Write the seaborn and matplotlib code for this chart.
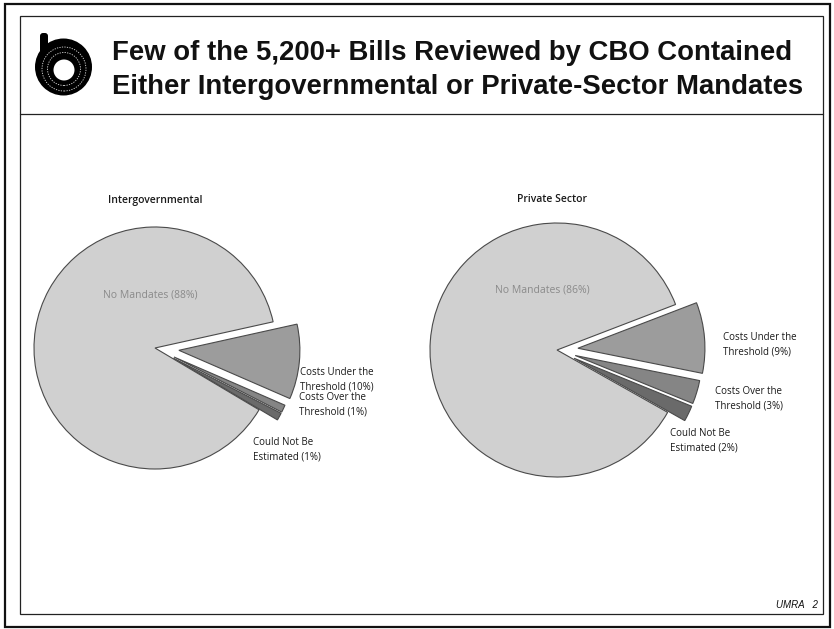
import matplotlib
matplotlib.use("Agg")
import matplotlib.pyplot as plt
from matplotlib.patches import Circle, Rectangle, FancyBboxPatch
import seaborn as sns

# ---- data -------------------------------------------------------------
categories = ["Costs Under the Threshold", "Costs Over the Threshold",
              "Could Not Be Estimated", "No Mandates"]
intergov_values = [10, 1, 1, 88]
private_values = [9, 3, 2, 86]
panel_titles = ["Intergovernmental", "Private Sector"]
title_lines = ["Few of the 5,200+ Bills Reviewed by CBO Contained",
               "Either Intergovernmental or Private-Sector Mandates"]
footer = "UMRA   2"

# ---- style ------------------------------------------------------------
sns.set_theme(style="white")
plt.rcParams["font.family"] = ["Open Sans", "DejaVu Sans"]
slice_colors = sns.color_palette(["#9c9c9c", "#858585", "#6a6a6a", "#d0d0d0"])

W, H = 834, 629
fig = plt.figure(figsize=(W / 100, H / 100), dpi=100)
ax = fig.add_axes([0, 0, 1, 1])


def Y(y):
    """Convert a top-down pixel row to the axes' bottom-up coordinate."""
    return H - y


def draw_pie(values, center, radius, start, explode):
    # explode offsets are in data units (pixels here)
    wedges, _ = ax.pie(values, colors=slice_colors, startangle=start,
                       counterclock=False, center=center, radius=radius,
                       explode=explode, frame=True,
                       wedgeprops=dict(edgecolor="#4a4a4a", linewidth=0.8))
    return wedges


draw_pie(intergov_values, (155, Y(348)), 121, 12.5, [24, 21, 21, 0])
draw_pie(private_values, (557, Y(350)), 127, 21.0, [21, 19, 19, 0])

ax.set_xlim(0, W)
ax.set_ylim(0, H)
ax.set_aspect("equal")
ax.set_axis_off()

# ---- slice labels -----------------------------------------------------
lab = dict(fontsize=7, color="#1a1a1a", ha="left", va="center",
           linespacing=1.4)


def label_text(name, v):
    words = name.split(" ")
    if name.startswith("Could"):
        first, second = "Could Not Be", "Estimated"
    else:
        first, second = " ".join(words[:3]), words[3]
    return f"{first}\n{second} ({v}%)"


left_pos = [(300, 380), (299, 405), (253, 450)]
right_pos = [(723, 345), (715, 399), (670, 441)]
for i in range(3):
    ax.text(left_pos[i][0], Y(left_pos[i][1]),
            label_text(categories[i], intergov_values[i]), **lab)
    ax.text(right_pos[i][0], Y(right_pos[i][1]),
            label_text(categories[i], private_values[i]), **lab)

ax.text(150, Y(295), f"{categories[3]} ({intergov_values[3]}%)",
        fontsize=7.5, color="#8a8a8a", ha="center", va="center")
ax.text(542, Y(290), f"{categories[3]} ({private_values[3]}%)",
        fontsize=7.5, color="#8a8a8a", ha="center", va="center")

ax.text(108, Y(200), panel_titles[0], fontsize=7.5, color="#1a1a1a",
        ha="left", va="center", fontweight="semibold")
ax.text(517, Y(200), panel_titles[1], fontsize=7.5, color="#1a1a1a",
        ha="left", va="center", fontweight="semibold")

# ---- header -----------------------------------------------------------
hfont = ["Liberation Sans", "DejaVu Sans"]
ax.text(112, Y(60), title_lines[0], fontsize=19.8, fontweight="bold",
        family=hfont, ha="left", va="baseline", color="#111111")
ax.text(112, Y(94), title_lines[1], fontsize=19.8, fontweight="bold",
        family=hfont, ha="left", va="baseline", color="#111111")

# CBO logo: black disc with a rising stem and pale concentric rings
ax.add_patch(FancyBboxPatch((40, Y(67)), 8, 34,
                            boxstyle="round,pad=0,rounding_size=3",
                            facecolor="black", edgecolor="none"))
ax.add_patch(Circle((63.5, Y(67)), 28.5, facecolor="black", edgecolor="none"))
for r in (22, 16.5):
    ax.add_patch(Circle((64, Y(69)), r, facecolor="none", edgecolor="#dddddd",
                        linewidth=0.6, linestyle=(0, (1.5, 1.5))))
ax.add_patch(Circle((64, Y(70)), 10.5, facecolor="white", edgecolor="none"))

# ---- frames -----------------------------------------------------------
ax.add_patch(Rectangle((5, Y(627)), 825, 623, facecolor="none",
                       edgecolor="#111111", linewidth=1.6))
ax.add_patch(Rectangle((20, Y(614)), 803, 598, facecolor="none",
                       edgecolor="#222222", linewidth=0.9))
ax.plot([20, 823], [Y(114), Y(114)], color="#222222", linewidth=0.9)

ax.text(818, Y(605), footer, fontsize=7, fontstyle="italic",
        family=hfont, ha="right", va="center", color="#111111")

fig.savefig("out.png", dpi=100, facecolor="white")
